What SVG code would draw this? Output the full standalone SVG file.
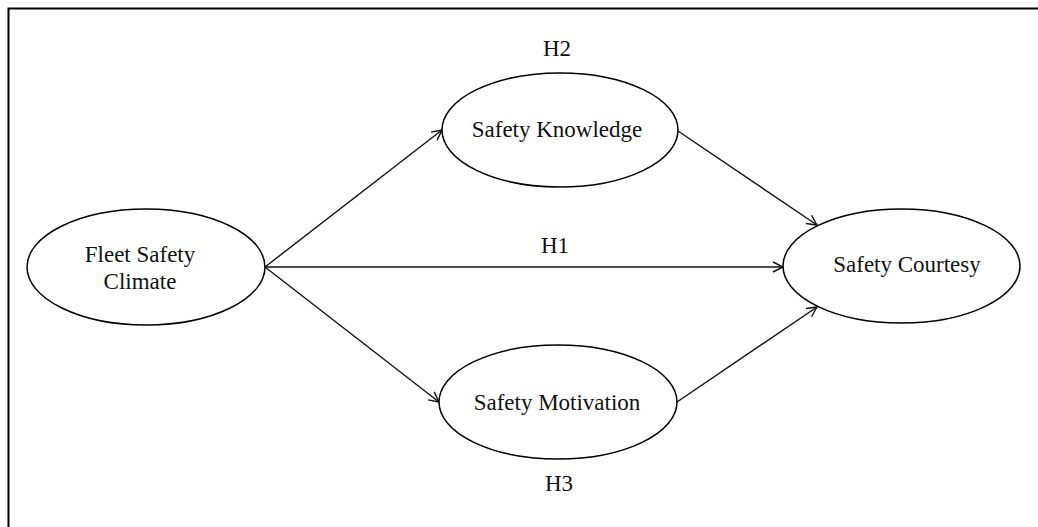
<svg xmlns="http://www.w3.org/2000/svg" width="1038" height="527" viewBox="0 0 1038 527">
<style>
.n{fill:#fff;stroke:#000;stroke-width:1.5}
.t{font-family:"Liberation Serif","Times New Roman",serif;font-size:23px;fill:#111;text-anchor:middle}
.c{stroke:#111;stroke-width:1.4;fill:none;marker-end:url(#a)}
</style>
<defs>
<marker id="a" markerWidth="14" markerHeight="14" refX="11" refY="6" orient="auto" markerUnits="userSpaceOnUse">
<path d="M1,1 L11,6 L1,11" fill="none" stroke="#111" stroke-width="1.4"/>
</marker>
</defs>
<rect width="1038" height="527" fill="#fff"/>
<path d="M8.5,527 V8.5 H1038" fill="none" stroke="#000" stroke-width="2"/>
<g id="connectors">
<line class="c" x1="265" y1="267" x2="442" y2="130"/>
<line class="c" x1="265" y1="267" x2="783" y2="267"/>
<line class="c" x1="265" y1="267" x2="439" y2="402"/>
<line class="c" x1="678" y1="131" x2="817" y2="225"/>
<line class="c" x1="677" y1="402" x2="817" y2="307"/>
</g>
<g id="labels">
<text class="t" x="557" y="56">H2</text>
<text class="t" x="555" y="253">H1</text>
<text class="t" x="559" y="491">H3</text>
</g>
<g id="fleet">
<ellipse class="n" cx="146" cy="267" rx="119" ry="58"/>
<text class="t" x="140" y="262">Fleet Safety</text>
<text class="t" x="140" y="289">Climate</text>
</g>
<g id="knowledge">
<ellipse class="n" cx="560" cy="130" rx="118" ry="57"/>
<text class="t" x="557" y="137">Safety Knowledge</text>
</g>
<g id="motivation">
<ellipse class="n" cx="558" cy="402" rx="119" ry="57"/>
<text class="t" x="557" y="410">Safety Motivation</text>
</g>
<g id="courtesy">
<ellipse class="n" cx="901.5" cy="266" rx="118.5" ry="57"/>
<text class="t" x="907" y="272">Safety Courtesy</text>
</g>
</svg>
